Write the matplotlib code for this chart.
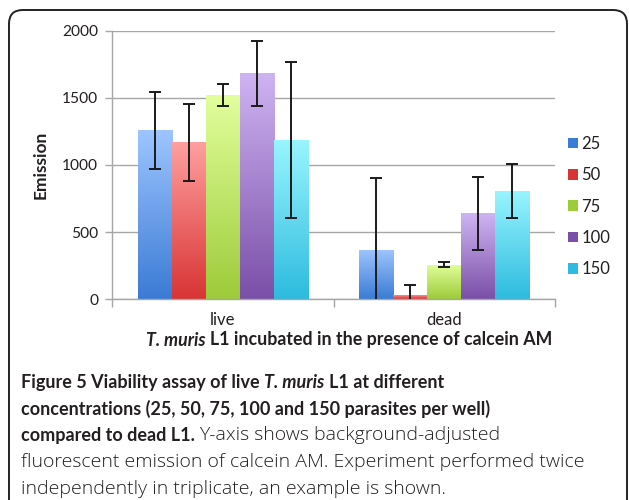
import matplotlib
matplotlib.use("Agg")
import matplotlib.pyplot as plt
import numpy as np
from matplotlib.colors import LinearSegmentedColormap
from matplotlib.patches import FancyBboxPatch

categories = ["live", "dead"]
series = ["25", "50", "75", "100", "150"]
values = {
    "25": [1260, 365],
    "50": [1170, 30],
    "75": [1520, 258],
    "100": [1683, 639],
    "150": [1185, 805],
}
errors = {
    "25": [287, 540],
    "50": [287, 77],
    "75": [84, 21],
    "100": [240, 273],
    "150": [580, 200],
}
# (top, bottom) gradient colours for each series
colours = {
    "25": ("#9fc5ff", "#3a7bd5"),
    "50": ("#ffa0a0", "#d93434"),
    "75": ("#e2ff9c", "#9dcb3a"),
    "100": ("#cfb4f3", "#7a4fa7"),
    "150": ("#9af5ff", "#2dbbdf"),
}
yticks = [0, 500, 1000, 1500, 2000]
ylabel = "Emission"
xlabel_runs = [("T. muris", "bold", "italic"),
               ("L1 incubated in the presence of calcein AM", "bold", "normal")]
caption = [
    [("Figure 5 Viability assay of live", "bold", "normal"), ("T. muris", "bold", "italic"),
     ("L1 at different", "bold", "normal")],
    [("concentrations (25, 50, 75, 100 and 150 parasites per well)", "bold", "normal")],
    [("compared to dead L1.", "bold", "normal"),
     ("Y-axis shows background-adjusted", "light", "normal")],
    [("fluorescent emission of calcein AM. Experiment performed twice", "light", "normal")],
    [("independently in triplicate, an example is shown.", "light", "normal")],
]

FONT = ["Lato", "DejaVu Sans"]
LIGHT_FONT = ["Open Sans", "DejaVu Sans"]
W, H = 629, 500
TXT = "#231f20"

fig = plt.figure(figsize=(W / 100, H / 100), dpi=100)
renderer = fig.canvas.get_renderer()


def text_runs(x, y, runs, size, center=False, color=TXT, light_size=None):
    """Write runs of differently styled text on one line, x/y in pixels from top-left."""
    probe = fig.text(0, 0, "a a", fontsize=size, family=FONT)
    probe2 = fig.text(0, 0, "aa", fontsize=size, family=FONT)
    gap = probe.get_window_extent(renderer).width - probe2.get_window_extent(renderer).width
    probe.remove(); probe2.remove()
    items, cur = [], x
    for s, weight, style in runs:
        fam = LIGHT_FONT if weight == "light" else FONT
        fs = light_size if (weight == "light" and light_size) else size
        t = fig.text(cur / W, 1 - y / H, s, fontsize=fs, fontweight=weight,
                     fontstyle=style, family=fam, color=color, va="center")
        items.append(t)
        cur += t.get_window_extent(renderer).width + gap
    if center:
        shift = (cur - gap - x) / 2
        for t in items:
            px, py = t.get_position()
            t.set_position((px - shift / W, py))


# rounded outer frame of the figure panel
frame = FancyBboxPatch((9 / W, -0.2), (627 - 9) / W, 1.2 - 10 / H,
                       boxstyle="round,pad=0,rounding_size=0.022",
                       transform=fig.transFigure, fill=False,
                       edgecolor="#222222", linewidth=1.4, mutation_aspect=W / H)
fig.add_artist(frame)

ax = fig.add_axes([112 / W, 1 - 299.3 / H, (555 - 112) / W, (299.3 - 30.7) / H])

n = len(series)
width = 0.1535
x = np.arange(len(categories))
for i, s in enumerate(series):
    pos = x + (i - (n - 1) / 2) * width
    bars = ax.bar(pos, values[s], width, color="none", edgecolor="none", zorder=2)
    cmap = LinearSegmentedColormap.from_list(s, [colours[s][1], colours[s][0]])
    for patch in bars:
        x0, y0 = patch.get_x(), patch.get_y()
        grad = np.linspace(0, 1, 256).reshape(-1, 1)
        im = ax.imshow(grad, cmap=cmap, origin="lower", aspect="auto",
                       extent=[x0, x0 + patch.get_width(), y0, y0 + patch.get_height()],
                       zorder=2)
        im.set_clip_path(patch)
    ax.errorbar(pos, values[s], yerr=errors[s], fmt="none", ecolor="#1a1a1a",
                elinewidth=1.4, capsize=4, capthick=1.4, zorder=3)
    ax.bar([np.nan], [0], color=colours[s][1], label=s)

ax.set_xlim(-0.5, 1.5)
ax.set_ylim(0, 2000)
ax.set_yticks(yticks)
ax.set_yticklabels([str(t) for t in yticks], fontsize=11.2, family=FONT, color=TXT)
ax.yaxis.grid(True, color="#a6a6a6", linewidth=1.0)
ax.set_axisbelow(True)

ax.set_xticks([-0.5, 0.5, 1.5])
ax.set_xticklabels([])
ax.set_xticks(x, minor=True)
ax.set_xticklabels(categories, minor=True, fontsize=12, family=FONT, color=TXT)
ax.tick_params(axis="x", which="major", length=6, color="#a6a6a6", width=1.0)
ax.tick_params(axis="x", which="minor", length=0, pad=9.5)
ax.tick_params(axis="y", length=5, color="#a6a6a6", width=1.0, pad=5)

for side in ["top", "right"]:
    ax.spines[side].set_visible(False)
for side in ["left", "bottom"]:
    ax.spines[side].set_color("#a6a6a6")
    ax.spines[side].set_linewidth(1.0)

fig.text(41 / W, 1 - 165 / H, ylabel, rotation=90, fontsize=12.5, fontweight="bold",
         family=FONT, color=TXT, ha="center", va="center")
text_runs(349, 340, xlabel_runs, 12.8, center=True)

ax.legend(loc="center left", bbox_to_anchor=((568 - 112) / 443, 0.345), frameon=False,
          borderaxespad=0, borderpad=0, handlelength=0.6, handleheight=0.6,
          handletextpad=0.2, labelspacing=0.92,
          prop={"family": FONT, "size": 12})
for t in ax.get_legend().get_texts():
    t.set_color(TXT)

# caption under the chart
lines_y = [382.5, 409, 435.5, 462, 488.5]
for runs, yy in zip(caption, lines_y):
    text_runs(21, yy, runs, 13, light_size=14)

fig.savefig("out.png", dpi=100)
